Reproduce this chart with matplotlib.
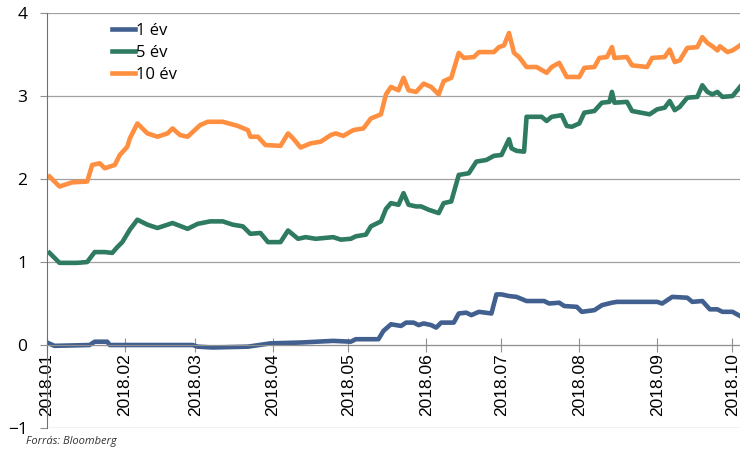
import pandas as pd
import matplotlib.pyplot as plt
import matplotlib.dates as mdates

# Hungarian government bond yields, 2018 (day = days since 2018-01-01)
start = pd.Timestamp("2018-01-01")

day_1y = [0, 3, 17, 19, 24, 25, 58, 60, 66, 80, 89, 101, 114, 121, 123, 132, 134, 137, 141, 143,
          146, 148, 150, 153, 155, 157, 162, 164, 167, 169, 172, 177, 179, 181, 184, 187, 191, 198,
          200, 204, 206, 211, 213, 218, 221, 225, 227, 243, 245, 249, 255, 257, 261, 264, 267, 269,
          273, 276]
yld_1y = [0.03, -0.01, 0.00, 0.04, 0.04, 0.00, 0.00, -0.02, -0.03, -0.02, 0.02, 0.03, 0.05, 0.04,
          0.07, 0.07, 0.17, 0.25, 0.23, 0.27, 0.27, 0.24, 0.26, 0.24, 0.21, 0.27, 0.27, 0.38, 0.39,
          0.36, 0.40, 0.38, 0.61, 0.61, 0.59, 0.58, 0.53, 0.53, 0.50, 0.51, 0.47, 0.46, 0.40, 0.42,
          0.48, 0.51, 0.52, 0.52, 0.50, 0.58, 0.57, 0.52, 0.53, 0.43, 0.43, 0.40, 0.40, 0.35]

day_5y = [1, 5, 12, 16, 19, 23, 26, 28, 30, 33, 36, 40, 44, 50, 56, 60, 65, 70, 74, 78, 81, 85,
          88, 93, 96, 100, 103, 107, 114, 117, 121, 123, 127, 129, 133, 135, 137, 140, 142, 144,
          147, 149, 152, 156, 158, 161, 164, 168, 171, 175, 178, 181, 184, 185, 187, 190, 191, 197,
          199, 201, 205, 207, 209, 212, 214, 218, 221, 224, 225, 226, 231, 233, 240, 243, 246, 248,
          250, 252, 255, 259, 261, 263, 265, 267, 269, 273, 276]
yld_5y = [1.11, 0.99, 0.99, 1.00, 1.12, 1.12, 1.11, 1.18, 1.24, 1.39, 1.51, 1.45, 1.41, 1.47,
          1.40, 1.46, 1.49, 1.49, 1.45, 1.43, 1.34, 1.35, 1.24, 1.24, 1.38, 1.28, 1.30, 1.28, 1.30,
          1.27, 1.28, 1.31, 1.33, 1.43, 1.49, 1.64, 1.71, 1.69, 1.83, 1.69, 1.67, 1.67, 1.63, 1.59,
          1.71, 1.73, 2.05, 2.07, 2.21, 2.23, 2.28, 2.29, 2.48, 2.37, 2.34, 2.33, 2.75, 2.75, 2.70,
          2.75, 2.77, 2.64, 2.63, 2.67, 2.80, 2.82, 2.92, 2.93, 3.05, 2.92, 2.93, 2.82, 2.78, 2.84,
          2.86, 2.94, 2.83, 2.87, 2.98, 2.99, 3.13, 3.05, 3.02, 3.05, 2.99, 3.00, 3.11]

day_10y = [1, 5, 10, 16, 18, 21, 23, 27, 29, 32, 33, 36, 40, 44, 48, 50, 53, 56, 61, 64, 70, 76,
           80, 81, 84, 87, 93, 96, 98, 101, 105, 109, 113, 115, 118, 122, 126, 129, 133, 135, 137,
           140, 142, 144, 147, 150, 153, 156, 158, 161, 164, 166, 170, 172, 178, 180, 182, 184, 186,
           188, 191, 195, 199, 201, 204, 207, 212, 214, 218, 220, 223, 225, 226, 231, 233, 239, 241,
           246, 248, 250, 252, 255, 259, 261, 263, 265, 267, 268, 271, 273, 276]
yld_10y = [2.03, 1.91, 1.96, 1.97, 2.17, 2.19, 2.13, 2.17, 2.29, 2.39, 2.49, 2.67, 2.55, 2.51,
           2.55, 2.61, 2.53, 2.51, 2.65, 2.69, 2.69, 2.64, 2.59, 2.51, 2.51, 2.41, 2.40, 2.55, 2.49,
           2.38, 2.43, 2.45, 2.53, 2.55, 2.52, 2.59, 2.61, 2.73, 2.78, 3.02, 3.11, 3.07, 3.22, 3.07,
           3.05, 3.15, 3.11, 3.02, 3.18, 3.22, 3.52, 3.46, 3.47, 3.53, 3.53, 3.59, 3.61, 3.76, 3.52,
           3.47, 3.35, 3.35, 3.28, 3.35, 3.40, 3.23, 3.23, 3.34, 3.35, 3.46, 3.47, 3.59, 3.46, 3.47,
           3.37, 3.35, 3.46, 3.47, 3.56, 3.41, 3.43, 3.58, 3.59, 3.71, 3.64, 3.60, 3.55, 3.60, 3.53,
           3.55, 3.61]

series = [("1 év", day_1y, yld_1y, "#41608f"),
          ("5 év", day_5y, yld_5y, "#2f7b62"),
          ("10 év", day_10y, yld_10y, "#ff8f40")]

month_ticks = pd.date_range("2018-01-01", "2018-10-01", freq="MS")

fig = plt.figure(figsize=(7.4, 4.51), dpi=100)
ax = fig.add_axes([0.0635, 0.051, 0.9365, 0.92])

for name, days, vals, col in series:
    dates = start + pd.to_timedelta(days, unit="D")
    ax.plot(dates, vals, color=col, lw=3.3, label=name, solid_joinstyle="round")

ax.set_ylim(-1, 4)
ax.set_yticks([-1, 0, 1, 2, 3, 4])
ax.set_xlim(start, start + pd.Timedelta(days=276))
ax.set_xticks(month_ticks)
ax.xaxis.set_major_formatter(mdates.DateFormatter("%Y.%m"))

ax.grid(axis="y", color="#a0a0a0", lw=0.9)
ax.set_axisbelow(True)
for s in ["top", "right"]:
    ax.spines[s].set_visible(False)
ax.spines["bottom"].set_position(("data", 0))
ax.spines["bottom"].set_color("#909090")
ax.spines["left"].set_color("#707070")

ax.tick_params(axis="x", direction="inout", length=10, color="#909090", pad=1,
               labelsize=12.5, rotation=90)
ax.tick_params(axis="y", length=5, color="#909090", pad=9, labelsize=12.5)
for lab in ax.get_xticklabels():
    lab.set_fontfamily("Liberation Sans")
for lab in ax.get_yticklabels():
    lab.set_fontfamily("Open Sans")

leg = ax.legend(loc="upper left", bbox_to_anchor=(0.072, 1.012), frameon=False,
                prop={"family": "Open Sans", "size": 12}, handlelength=1.4,
                handletextpad=0.05, labelspacing=0.35)

fig.text(0.035, 0.015, "Forrás: Bloomberg", fontsize=8, style="italic",
         family="Open Sans", color="#333333")

fig.savefig("out.png", dpi=100)
